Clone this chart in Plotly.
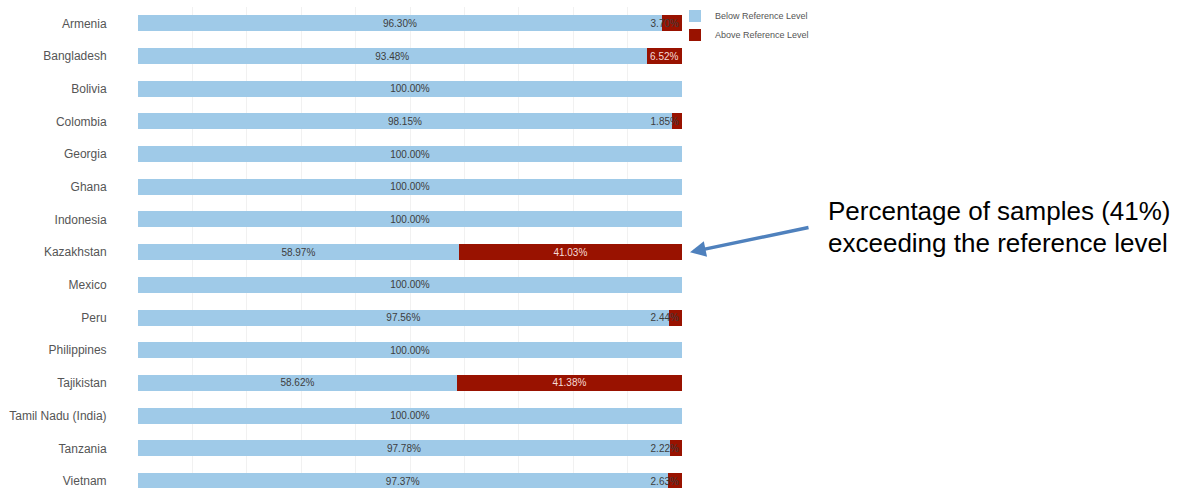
import plotly.graph_objects as go

countries = ["Armenia", "Bangladesh", "Bolivia", "Colombia", "Georgia", "Ghana",
             "Indonesia", "Kazakhstan", "Mexico", "Peru", "Philippines", "Tajikistan",
             "Tamil Nadu (India)", "Tanzania", "Vietnam"]
below = [96.30, 93.48, 100.00, 98.15, 100.00, 100.00, 100.00, 58.97, 100.00,
         97.56, 100.00, 58.62, 100.00, 97.78, 97.37]
above = [3.70, 6.52, 0, 1.85, 0, 0, 0, 41.03, 0, 2.44, 0, 41.38, 0, 2.22, 2.63]

BLUE = "#9fcae8"
RED = "#991200"
DARK = "#3d3d3d"
LIGHT = "#f6dcd8"
FONT = "Liberation Sans, Arial, sans-serif"

# split the above series: large segments get centred light labels,
# small segments get end-anchored dark labels
above_big = [v if v >= 5 else None for v in above]
above_small = [v if 0 < v < 5 else None for v in above]

fig = go.Figure()
fig.add_trace(go.Bar(
    y=countries, x=below, orientation="h", name="Below Reference Level",
    marker=dict(color=BLUE, line=dict(width=0)),
    texttemplate="%{x:.2f}%", textposition="inside", insidetextanchor="middle",
    constraintext="none", textangle=0,
    insidetextfont=dict(color=DARK, size=10, family=FONT),
    hoverinfo="skip",
))
fig.add_trace(go.Bar(
    y=countries, x=above_big, orientation="h", name="Above Reference Level",
    legendgroup="above",
    marker=dict(color=RED, line=dict(width=0)),
    texttemplate="%{x:.2f}%", textposition="inside", insidetextanchor="middle",
    constraintext="none", textangle=0,
    insidetextfont=dict(color=LIGHT, size=10, family=FONT),
    hoverinfo="skip",
))
fig.add_trace(go.Bar(
    y=countries, x=above_small, orientation="h", name="Above Reference Level",
    legendgroup="above", showlegend=False,
    marker=dict(color=RED, line=dict(width=0)),
    texttemplate="%{x:.2f}%", textposition="inside", insidetextanchor="end",
    constraintext="none", textangle=0,
    insidetextfont=dict(color=DARK, size=10, family=FONT),
    hoverinfo="skip",
))

T, B = 6.6, 488.0
L, R = 138.0, 682.0
W, H = R - L, B - T

def px_x(x):
    return (x - L) / W

def px_y(y):
    return (B - y) / H

fig.update_layout(
    width=1183, height=488,
    barmode="stack", bargap=0.51,
    margin=dict(l=int(L), r=int(1183 - R), t=T, b=0, pad=0),
    paper_bgcolor="white", plot_bgcolor="white",
    font=dict(family=FONT, color="#555555"),
    xaxis=dict(range=[0, 100], dtick=10, showgrid=True, gridcolor="#f1f1f1",
               gridwidth=1, showticklabels=False, zeroline=False, showline=False,
               fixedrange=True),
    yaxis=dict(categoryorder="array", categoryarray=countries,
               range=[14.214, -0.5], showgrid=False, zeroline=False, showline=False,
               ticks="outside", ticklen=28, tickcolor="rgba(0,0,0,0)",
               tickfont=dict(size=12, color="#555555", family=FONT)),
    legend=dict(x=px_x(675), xanchor="left", y=px_y(1), yanchor="top",
                font=dict(size=9, color="#555555", family=FONT),
                bgcolor="rgba(0,0,0,0)", itemwidth=30, traceorder="normal"),
    showlegend=True,
)

fig.add_annotation(
    xref="paper", yref="paper", x=px_x(826), y=px_y(211),
    xanchor="left", yanchor="middle", showarrow=False,
    text="Percentage of samples (41%)",
    font=dict(size=26, color="#000000", family=FONT),
)
fig.add_annotation(
    xref="paper", yref="paper", x=px_x(826), y=px_y(243),
    xanchor="left", yanchor="middle", showarrow=False,
    text="exceeding the reference level",
    font=dict(size=26, color="#000000", family=FONT),
)
fig.add_annotation(
    xref="paper", yref="paper", x=px_x(690), y=px_y(252),
    ax=120, ay=-25, axref="pixel", ayref="pixel",
    text="", showarrow=True, arrowhead=2, arrowsize=0.9, arrowwidth=3.5,
    arrowcolor="#4f81bd",
)

fig.write_html(
    "out.html",
    config={"displayModeBar": False, "staticPlot": True},
    post_script="document.body.style.margin='0px';document.body.style.overflow='hidden';",
)
